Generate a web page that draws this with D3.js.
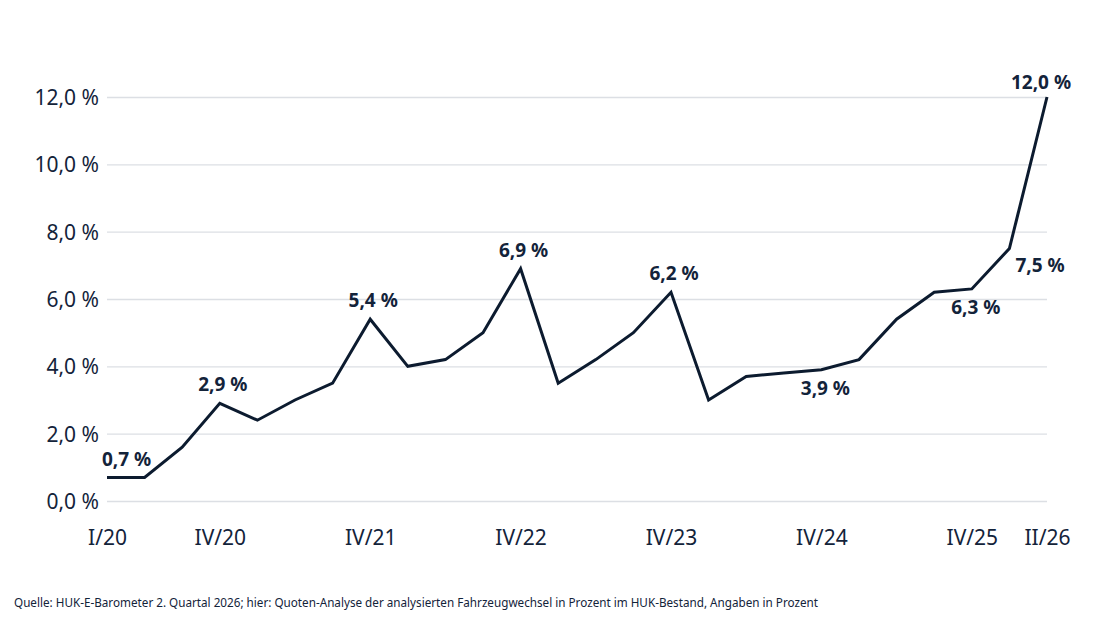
<!DOCTYPE html>
<html>
<head>
<meta charset="utf-8">
<script src="https://cdn.jsdelivr.net/npm/d3@7"></script>
<style>
  body { margin: 0; background: #fff; }
  svg { display: block; }
</style>
</head>
<body>
<div id="chart"></div>
<script>
// Quartale I/20 .. II/26
const quarters = ["I/20","II/20","III/20","IV/20",
                  "I/21","II/21","III/21","IV/21",
                  "I/22","II/22","III/22","IV/22",
                  "I/23","II/23","III/23","IV/23",
                  "I/24","II/24","III/24","IV/24",
                  "I/25","II/25","III/25","IV/25",
                  "I/26","II/26"]
const quote = [0.7, 0.7, 1.6, 2.9,
               2.4, 3.0, 3.5, 5.4,
               4.0, 4.2, 5.0, 6.9,
               3.5, 4.2, 5.0, 6.2,
               3.0, 3.7, 3.8, 3.9,
               4.2, 5.4, 6.2, 6.3,
               7.5, 12.0]
const xTickLabels = ["I/20","IV/20","IV/21","IV/22","IV/23","IV/24","IV/25","II/26"]
const yTicks = [0, 2, 4, 6, 8, 10, 12]
const labelled = ["I/20","IV/20","IV/21","IV/22","IV/23","IV/24","IV/25","I/26","II/26"]

// where the value label sits relative to its point
const labelPos = {
  "I/20": "start", "IV/24": "below", "IV/25": "below", "I/26": "right", "II/26": "last"
}

const W = 1097, H = 624
const margin = { top: 97, right: 50, bottom: 123, left: 107 }
const width = W - margin.left - margin.right
const height = H - margin.top - margin.bottom

const ink = "#13233a"
const font = "'Noto Sans', 'Open Sans', sans-serif"
const fmt = v => d3.format(".1f")(v).replace(".", ",") + " %"

const svg = d3.select("#chart").append("svg")
    .attr("width", W)
    .attr("height", H)
    .style("font-family", font)

const g = svg.append("g")
    .attr("transform", "translate(" + margin.left + "," + margin.top + ")")

const x = d3.scalePoint().domain(quarters).range([0, width])
const y = d3.scaleLinear().domain([0, 12]).range([height, 0])

// grid + y labels
const yAxisG = g.append("g")
    .call(d3.axisLeft(y).tickValues(yTicks).tickSize(-width).tickPadding(8).tickFormat(fmt))
    .attr("font-family", font)
yAxisG.select(".domain").remove()
yAxisG.selectAll(".tick line").attr("stroke", "#dcdfe4").attr("stroke-width", 1.3)
yAxisG.selectAll(".tick text")
    .attr("fill", ink)
    .style("font-size", "21px")
    .attr("dy", "0.36em")

// x labels
const xAxisG = g.append("g")
    .attr("transform", "translate(0," + height + ")")
    .call(d3.axisBottom(x).tickValues(xTickLabels).tickSize(0).tickPadding(29))
    .attr("font-family", font)
xAxisG.select(".domain").remove()
xAxisG.selectAll(".tick text")
    .attr("fill", ink)
    .style("font-size", "21px")

const data = quarters.map((q, i) => ({ q: q, v: quote[i] }))

const line = d3.line()
    .x(d => x(d.q))
    .y(d => y(d.v))

g.append("path")
    .datum(data)
    .attr("fill", "none")
    .attr("stroke", "#0c1b2f")
    .attr("stroke-width", 3)
    .attr("stroke-linejoin", "miter")
    .attr("d", line)

// value labels
g.selectAll(".val")
    .data(data.filter(d => labelled.includes(d.q)))
    .enter().append("text")
    .attr("class", "val")
    .attr("fill", ink)
    .style("font-size", "19px")
    .style("font-weight", "700")
    .each(function (d) {
        const p = labelPos[d.q] || "above"
        const t = d3.select(this)
        const px = x(d.q), py = y(d.v)
        if (p === "start") {
            t.attr("x", px - 5).attr("y", py - 11).attr("text-anchor", "start")
        } else if (p === "below") {
            t.attr("x", px + 4).attr("y", py + 25).attr("text-anchor", "middle")
        } else if (p === "right") {
            t.attr("x", px + 6).attr("y", py + 23).attr("text-anchor", "start")
        } else if (p === "last") {
            t.attr("x", px - 6).attr("y", py - 8).attr("text-anchor", "middle")
        } else {
            t.attr("x", px + 3).attr("y", py - 12).attr("text-anchor", "middle")
        }
    })
    .text(d => fmt(d.v))

// source
svg.append("text")
    .attr("x", 14)
    .attr("y", 607)
    .attr("fill", ink)
    .style("font-size", "12.5px")
    .attr("textLength", 804)
    .attr("lengthAdjust", "spacingAndGlyphs")
    .text("Quelle: HUK-E-Barometer 2. Quartal 2026; hier: Quoten-Analyse der analysierten Fahrzeugwechsel in Prozent im HUK-Bestand, Angaben in Prozent")
</script>
</body>
</html>
